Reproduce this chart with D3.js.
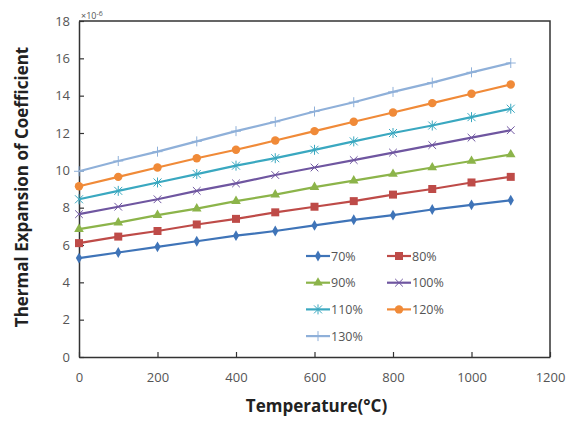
<!DOCTYPE html>
<html>
<head>
<meta charset="utf-8">
<script src="https://cdn.jsdelivr.net/npm/d3@7"></script>
<style>
  body { margin: 0; background: #fff; }
  svg text { font-family: "Open Sans", "Liberation Sans", sans-serif; }
</style>
</head>
<body>
<div id="chart"></div>
<script>
// temperatures (deg C)
var temps = [0, 100, 200, 300, 400, 500, 600, 700, 800, 900, 1000, 1100];

var s70  = [5.3, 5.6, 5.9, 6.2, 6.5, 6.75, 7.05, 7.35, 7.6, 7.9, 8.15, 8.4];
var s80  = [6.1, 6.45, 6.75, 7.1, 7.4, 7.75, 8.05, 8.35, 8.7, 9.0, 9.35, 9.65];
var s90  = [6.85, 7.2, 7.6, 7.95, 8.35, 8.7, 9.1, 9.45, 9.8, 10.15, 10.5, 10.85];
var s100 = [7.65, 8.05, 8.45, 8.9, 9.3, 9.75, 10.15, 10.55, 10.95, 11.35, 11.75, 12.15];
var s110 = [8.45, 8.9, 9.35, 9.8, 10.25, 10.65, 11.1, 11.55, 12.0, 12.4, 12.85, 13.3];
var s120 = [9.15, 9.65, 10.15, 10.65, 11.1, 11.6, 12.1, 12.6, 13.1, 13.6, 14.1, 14.6];
var s130 = [9.95, 10.5, 11.0, 11.55, 12.1, 12.6, 13.15, 13.65, 14.2, 14.7, 15.25, 15.75];

var names   = ['70%', '80%', '90%', '100%', '110%', '120%', '130%'];
var colors  = ['#3f74b8', '#be4b48', '#8cb44a', '#6f56a0', '#3aa8c0', '#f08a38', '#8fb0d9'];
var markers = ['diamond', 'square', 'triangle', 'cross', 'star', 'circle', 'plus'];

var xTicks = [0, 200, 400, 600, 800, 1000, 1200];
var yTicks = [0, 2, 4, 6, 8, 10, 12, 14, 16, 18];

var series = [s70, s80, s90, s100, s110, s120, s130];

var margin = {top: 21, right: 25, bottom: 64, left: 79},
    width = 575 - margin.left - margin.right,
    height = 421 - margin.top - margin.bottom;

var svg = d3.select('#chart').append('svg')
    .attr('width', 575)
    .attr('height', 421)
    .append('g')
    .attr('transform', 'translate(' + margin.left + ',' + margin.top + ')');

var x = d3.scaleLinear().domain([0, 1200]).range([0, width]);
var y = d3.scaleLinear().domain([0, 18]).range([height, 0]);

// plot area frame (top and right)
svg.append('path')
    .attr('d', 'M0,0H' + width + 'V' + height)
    .attr('fill', 'none')
    .attr('stroke', '#333')
    .attr('stroke-width', 1.5);

var xAxis = svg.append('g')
    .attr('transform', 'translate(0,' + height + ')')
    .call(d3.axisBottom(x).tickValues(xTicks).tickFormat(d3.format('d')).tickSize(5).tickSizeOuter(0));
var yAxis = svg.append('g')
    .call(d3.axisLeft(y).tickValues(yTicks).tickFormat(d3.format('d')).tickSize(5).tickSizeOuter(0));

[xAxis, yAxis].forEach(function(a) {
    a.select('.domain').attr('stroke', '#333').attr('stroke-width', 1.5);
    a.selectAll('.tick line').attr('stroke', '#333').attr('stroke-width', 1.2);
    a.selectAll('.tick text').attr('fill', '#555').style('font-size', '13px');
});
xAxis.selectAll('.tick line').attr('y2', -5);
xAxis.selectAll('.tick text').attr('dy', '1.3em');
yAxis.selectAll('.tick line').attr('x2', 5);
yAxis.selectAll('.tick text').attr('x', -9);

// x10^-6 multiplier
var mult = svg.append('text')
    .attr('x', 2).attr('y', -2)
    .attr('fill', '#555')
    .style('font-size', '9px')
    .text('\u00d710');
mult.append('tspan').attr('dy', -3).style('font-size', '7px').text('-6');

// axis titles
svg.append('text')
    .attr('x', width / 2 + 2)
    .attr('y', height + 55)
    .attr('text-anchor', 'middle')
    .style('font-size', '17px')
    .style('font-weight', 'bold')
    .attr('fill', '#222')
    .text('Temperature(\u00b0C)');

svg.append('text')
    .attr('transform', 'translate(' + (-51) + ',' + (height / 2 - 2) + ') rotate(-90)')
    .attr('text-anchor', 'middle')
    .style('font-size', '17px')
    .style('font-weight', 'bold')
    .attr('fill', '#222')
    .text('Thermal Expansion of Coefficient');

function drawMarker(g, type, color) {
    if (type === 'diamond') {
        g.append('path').attr('d', d3.symbol(d3.symbolDiamond, 34)()).attr('fill', color);
    } else if (type === 'square') {
        g.append('path').attr('d', d3.symbol(d3.symbolSquare, 64)()).attr('fill', color);
    } else if (type === 'triangle') {
        g.append('path').attr('d', d3.symbol(d3.symbolTriangle, 40)()).attr('fill', color);
    } else if (type === 'circle') {
        g.append('path').attr('d', d3.symbol(d3.symbolCircle, 56)()).attr('fill', color);
    } else if (type === 'cross') {
        g.append('path').attr('d', d3.symbol(d3.symbolTimes, 40)())
            .attr('fill', 'none').attr('stroke', color).attr('stroke-width', 1);
    } else if (type === 'star') {
        g.append('path').attr('d', 'M-4,-4L4,4M-4,4L4,-4M0,-5V5')
            .attr('fill', 'none').attr('stroke', color).attr('stroke-width', 1);
    } else if (type === 'plus') {
        g.append('path').attr('d', 'M-5,0H5M0,-5V5')
            .attr('fill', 'none').attr('stroke', color).attr('stroke-width', 1);
    }
}

var line = d3.line()
    .x(function(d, i) { return x(temps[i]); })
    .y(function(d) { return y(d); });

series.forEach(function(vals, k) {
    svg.append('path')
        .datum(vals)
        .attr('fill', 'none')
        .attr('stroke', colors[k])
        .attr('stroke-width', 2.2)
        .attr('d', line);
    vals.forEach(function(v, i) {
        var g = svg.append('g')
            .attr('transform', 'translate(' + x(temps[i]) + ',' + y(v) + ')');
        drawMarker(g, markers[k], colors[k]);
    });
});

// legend
var legend = svg.append('g').attr('transform', 'translate(' + (306 - margin.left) + ',' + (256 - margin.top) + ')');
names.forEach(function(n, k) {
    var col = k % 2, row = Math.floor(k / 2);
    var g = legend.append('g').attr('transform', 'translate(' + (col * 81) + ',' + (row * 26.7) + ')');
    g.append('line').attr('x1', 0).attr('x2', 24).attr('y1', 0).attr('y2', 0)
        .attr('stroke', colors[k]).attr('stroke-width', 2.2);
    var m = g.append('g').attr('transform', 'translate(12,0)');
    drawMarker(m, markers[k], colors[k]);
    g.append('text').attr('x', 25).attr('y', 4.5)
        .attr('fill', '#555')
        .style('font-size', '12.5px')
        .text(n);
});
</script>
</body>
</html>
